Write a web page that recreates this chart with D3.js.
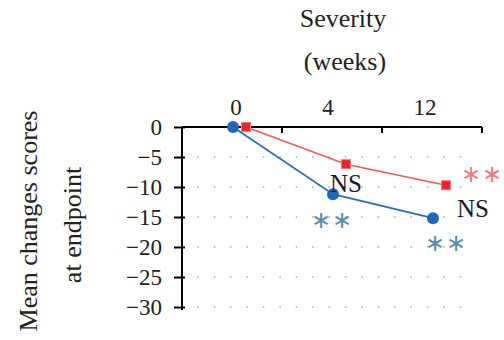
<!DOCTYPE html>
<html>
<head>
<meta charset="utf-8">
<script src="https://cdn.jsdelivr.net/npm/d3@7"></script>
</head>
<body style="margin:0; background:#fff">
<script>
// data
const weeks = ["0", "4", "12"];
const blueVals = [0, -11.2, -15.2];
const redVals = [0, -6.2, -9.7];
const yTicks = [0, -5, -10, -15, -20, -25, -30];
const nsLabels = ["", "NS", "NS"];
const blueStars = ["", "∗∗", "∗∗"];
const redStars = ["", "", "∗∗"];

const W = 504, H = 340;
const serif = "'Liberation Serif'";
const svg = d3.select("body").append("svg")
  .attr("width", W)
  .attr("height", H)
  .style("font-family", serif);

const x = d3.scaleBand().domain(weeks).range([182, 482]);
const y = d3.scaleLinear().domain([-30, 0]).range([307, 127]);
const cx = d => x(d) + x.bandwidth() / 2;

// dotted grid
svg.append("g")
  .selectAll("line")
  .data(yTicks.filter(t => t !== 0))
  .join("line")
  .attr("x1", 198).attr("x2", 476)
  .attr("y1", d => y(d)).attr("y2", d => y(d))
  .attr("stroke", "#9a9a9a")
  .attr("stroke-width", 1.6)
  .attr("stroke-linecap", "round")
  .attr("stroke-dasharray", "0.1 16.3");

// y axis
const yAxis = svg.append("g")
  .attr("transform", "translate(182,0)")
  .call(d3.axisLeft(y).tickValues(yTicks).tickSize(8).tickPadding(12)
    .tickFormat(d => d === 0 ? "0" : "\u2212" + Math.abs(d)));
yAxis.attr("font-family", null);
yAxis.select(".domain").attr("d", "M0," + y(0) + "V" + (y(-30) + 3))
  .attr("stroke-width", 2);
yAxis.selectAll(".tick line").attr("x2", -8).attr("x1", 3).attr("stroke-width", 2);
yAxis.selectAll("text")
  .style("font-family", serif)
  .attr("font-size", 23).attr("fill", "#222");

// x axis on top, ticks at band edges
const xg = svg.append("g");
xg.append("line")
  .attr("x1", 182).attr("x2", 482)
  .attr("y1", y(0)).attr("y2", y(0))
  .attr("stroke", "#000").attr("stroke-width", 2);
xg.selectAll(".xt")
  .data(weeks)
  .join("line")
  .attr("class", "xt")
  .attr("x1", d => x(d) + x.bandwidth()).attr("x2", d => x(d) + x.bandwidth())
  .attr("y1", y(0)).attr("y2", y(0) + 6)
  .attr("stroke", "#000").attr("stroke-width", 2);
xg.selectAll(".xl")
  .data(weeks)
  .join("text")
  .attr("class", "xl")
  .attr("x", d => cx(d) + (d === "0" ? 4 : d === "4" ? -4 : -7))
  .attr("y", 115)
  .attr("text-anchor", "middle")
  .style("font-family", serif)
  .attr("font-size", 23)
  .attr("fill", "#222")
  .text(d => d);

// titles
const title = (tr, s) => svg.append("text")
  .attr("transform", tr)
  .attr("text-anchor", "middle")
  .style("font-family", serif)
  .attr("font-size", 26).attr("fill", "#222")
  .text(s);
title("translate(343,27)", "Severity");
title("translate(345,70)", "(weeks)");
title("translate(37,221) rotate(-90)", "Mean changes scores");
title("translate(81,225) rotate(-90)", "at endpoint");

// series points
const line = d3.line();
const redPts = weeks.map((w, i) => [cx(w) + 14, y(redVals[i])]);
const bluePts = weeks.map((w, i) => [cx(w) + 1, y(blueVals[i])]);

// red series
svg.append("path")
  .attr("d", line(redPts))
  .attr("fill", "none")
  .attr("stroke", "#f05a5f")
  .attr("stroke-width", 1.6);
svg.selectAll(".rsq")
  .data(redPts)
  .join("rect")
  .attr("class", "rsq")
  .attr("x", d => d[0] - 4.5).attr("y", d => d[1] - 4.5)
  .attr("width", 9).attr("height", 9)
  .attr("fill", "#e8252b")
  .attr("stroke", "#f47a7d").attr("stroke-width", 1);

// blue series
svg.append("path")
  .attr("d", line(bluePts))
  .attr("fill", "none")
  .attr("stroke", "#2f6db5")
  .attr("stroke-width", 1.8);
svg.selectAll(".bdot")
  .data(bluePts)
  .join("circle")
  .attr("class", "bdot")
  .attr("cx", d => d[0]).attr("cy", d => d[1])
  .attr("r", 6)
  .attr("fill", "#1f66b8");

// annotations
const nsOff = [[0, 0], [13, -2], [40, -1]];
svg.selectAll(".ns")
  .data(nsLabels)
  .join("text")
  .attr("class", "ns")
  .attr("x", (d, i) => bluePts[i][0] + nsOff[i][0])
  .attr("y", (d, i) => bluePts[i][1] + nsOff[i][1])
  .attr("text-anchor", "middle")
  .style("font-family", serif)
  .attr("font-size", 25).attr("fill", "#1a1a2a")
  .text(d => d);

const bsOff = [[0, 0], [-1, 34], [13, 33]];
svg.selectAll(".bs")
  .data(blueStars)
  .join("text")
  .attr("class", "bs")
  .attr("x", (d, i) => bluePts[i][0] + bsOff[i][0])
  .attr("y", (d, i) => bluePts[i][1] + bsOff[i][1])
  .attr("text-anchor", "middle")
  .style("font-family", serif)
  .attr("font-size", 24).attr("letter-spacing", 1)
  .attr("fill", "#5a8eaa")
  .text(d => d);

svg.selectAll(".rs")
  .data(redStars)
  .join("text")
  .attr("class", "rs")
  .attr("x", (d, i) => redPts[i][0] + 36)
  .attr("y", (d, i) => redPts[i][1] - 3)
  .attr("text-anchor", "middle")
  .style("font-family", serif)
  .attr("font-size", 24).attr("letter-spacing", 1)
  .attr("fill", "#f27a7e")
  .text(d => d);
</script>
</body>
</html>
